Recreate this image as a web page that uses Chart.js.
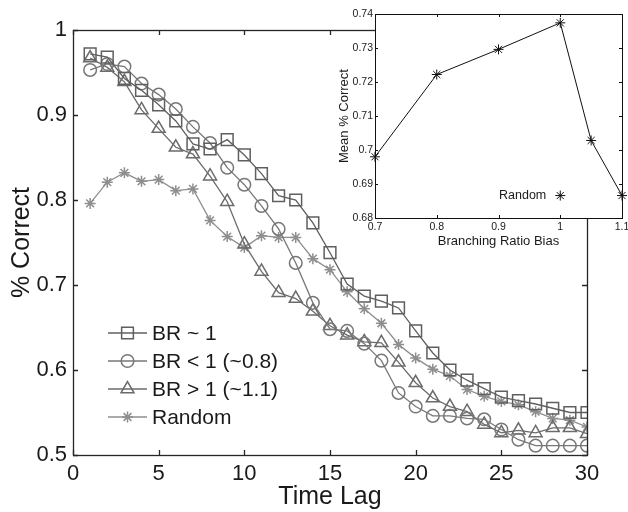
<!DOCTYPE html>
<html>
<head>
<meta charset="utf-8">
<script src="https://cdn.jsdelivr.net/npm/chart.js@4.4.1/dist/chart.umd.min.js"></script>
<style>
  body { margin: 0; background: #fff; }
  #wrap { position: relative; width: 628px; height: 512px; }
  #mainChart { position: absolute; left: 0; top: 0; }
  #insetChart { position: absolute; left: 318px; top: 0; }
</style>
</head>
<body>
<div id="wrap">
  <canvas id="mainChart" width="628" height="512"></canvas>
  <canvas id="insetChart" width="310" height="260"></canvas>
</div>
<script>
// main plot data (time lag 1..30)
const lags = [1,2,3,4,5,6,7,8,9,10,11,12,13,14,15,16,17,18,19,20,21,22,23,24,25,26,27,28,29,30];
const brOne = [0.972,0.968,0.943,0.929,0.912,0.893,0.866,0.860,0.871,0.853,0.831,0.805,0.800,0.773,0.738,
               0.701,0.687,0.681,0.673,0.646,0.620,0.600,0.588,0.578,0.568,0.564,0.560,0.555,0.550,0.550];
const brLow = [0.953,0.960,0.957,0.937,0.924,0.907,0.886,0.867,0.838,0.818,0.793,0.766,0.726,0.679,0.648,
               0.646,0.631,0.611,0.573,0.557,0.546,0.546,0.543,0.542,0.530,0.518,0.511,0.511,0.511,0.511];
const brHigh = [0.967,0.956,0.939,0.906,0.884,0.862,0.854,0.828,0.798,0.748,0.716,0.691,0.684,0.669,0.652,
                0.641,0.633,0.632,0.609,0.585,0.567,0.557,0.551,0.536,0.526,0.529,0.526,0.532,0.532,0.525];
const randomLag = [0.796,0.821,0.832,0.822,0.824,0.811,0.813,0.776,0.757,0.744,0.758,0.756,0.756,0.731,0.718,
                   0.692,0.672,0.655,0.630,0.614,0.601,0.593,0.577,0.569,0.563,0.559,0.551,0.543,0.541,0.533];
const seriesNames = ['BR ~ 1', 'BR < 1 (~0.8)', 'BR > 1 (~1.1)', 'Random'];
const xTicks = [0, 5, 10, 15, 20, 25, 30];
const yTicks = [0.5, 0.6, 0.7, 0.8, 0.9, 1];

// inset data
const bias = [0.7, 0.8, 0.9, 1.0, 1.05, 1.1];
const meanCorrect = [0.698, 0.7222, 0.7296, 0.7374, 0.7028, 0.6866];
const randomBias = [1.0];
const randomMean = [0.6866];

const FONT = '"Liberation Sans", Arial, Helvetica, sans-serif';

function pts(xs, ys) {
    return xs.map((v, i) => ({x: v, y: ys[i]}));
}

function fmt(v) {
    return String(+Number(v).toFixed(3));
}

// draws the box and inward tick marks (matlab style)
function boxTicks(len, color, lw) {
    return {
        id: 'boxTicks',
        afterDraw(chart) {
            const {ctx, chartArea: a} = chart;
            const x = chart.scales.x, y = chart.scales.y;
            ctx.save();
            ctx.strokeStyle = color;
            ctx.lineWidth = lw;
            ctx.beginPath();
            x.ticks.forEach(t => {
                const px = Math.round(x.getPixelForValue(t.value)) + 0.5;
                ctx.moveTo(px, a.bottom); ctx.lineTo(px, a.bottom - len);
                ctx.moveTo(px, a.top); ctx.lineTo(px, a.top + len);
            });
            y.ticks.forEach(t => {
                const py = Math.round(y.getPixelForValue(t.value)) + 0.5;
                ctx.moveTo(a.left, py); ctx.lineTo(a.left + len, py);
                ctx.moveTo(a.right, py); ctx.lineTo(a.right - len, py);
            });
            ctx.stroke();
            ctx.strokeRect(Math.round(a.left) + 0.5, Math.round(a.top) + 0.5,
                Math.round(a.right - a.left), Math.round(a.bottom - a.top));
            ctx.restore();
        }
    };
}

const legendPlugin = {
    id: 'innerLegend',
    afterDraw(chart) {
        const ctx = chart.ctx;
        const a = chart.chartArea;
        const x0 = a.left + 35, x1 = a.left + 74, xm = (x0 + x1) / 2;
        ctx.save();
        chart.data.datasets.forEach((ds, i) => {
            const yy = 333 + i * 28;
            ctx.strokeStyle = ds.borderColor;
            ctx.lineWidth = ds.borderWidth;
            ctx.beginPath();
            ctx.moveTo(x0, yy); ctx.lineTo(x1, yy);
            ctx.stroke();
            ctx.lineWidth = ds.pointBorderWidth;
            ctx.fillStyle = 'rgba(0,0,0,0)';
            Chart.helpers.drawPoint(ctx, {
                pointStyle: ds.pointStyle, radius: ds.pointRadius,
                borderWidth: ds.pointBorderWidth, rotation: 0
            }, xm, yy);
            ctx.fillStyle = '#1a1a1a';
            ctx.font = '21px ' + FONT;
            ctx.textBaseline = 'middle';
            ctx.textAlign = 'left';
            ctx.fillText(ds.label, x1 + 5, yy + 1);
        });
        ctx.restore();
    }
};

function lineSet(label, data, color, style, r) {
    return {
        label: label,
        data: pts(lags, data),
        borderColor: color,
        borderWidth: 1.3,
        pointStyle: style,
        pointRadius: r,
        pointHoverRadius: r,
        pointBorderColor: color,
        pointBackgroundColor: 'rgba(0,0,0,0)',
        pointBorderWidth: 1.5,
        tension: 0,
        fill: false
    };
}

new Chart(document.getElementById('mainChart'), {
    type: 'line',
    data: {
        datasets: [
            lineSet(seriesNames[0], brOne, '#5f5f5f', 'rect', 8.3),
            lineSet(seriesNames[1], brLow, '#777777', 'circle', 6.3),
            lineSet(seriesNames[2], brHigh, '#6b6b6b', 'triangle', 7.5),
            lineSet(seriesNames[3], randomLag, '#8e8e8e', 'star', 5.5)
        ]
    },
    options: {
        responsive: false,
        animation: false,
        devicePixelRatio: 1,
        layout: {padding: {left: 0, top: 30, right: 41, bottom: 0}},
        plugins: {legend: {display: false}, tooltip: {enabled: false}},
        scales: {
            x: {
                type: 'linear', min: 0, max: 30,
                afterBuildTicks: s => { s.ticks = xTicks.map(v => ({value: v})); },
                afterFit: s => { s.height = 57; s.paddingLeft = 0; s.paddingRight = 0; },
                grid: {display: false, drawTicks: false},
                border: {display: false},
                ticks: {color: '#1a1a1a', padding: 6, font: {family: FONT, size: 22}, callback: fmt, maxRotation: 0},
                title: {display: true, text: 'Time Lag', color: '#1a1a1a', padding: 0,
                        font: {family: FONT, size: 25}}
            },
            y: {
                type: 'linear', min: 0.5, max: 1,
                afterBuildTicks: s => { s.ticks = yTicks.map(v => ({value: v})); },
                afterFit: s => { s.width = 73; s.paddingTop = 0; s.paddingBottom = 0; },
                grid: {display: false, drawTicks: false},
                border: {display: false},
                ticks: {color: '#1a1a1a', padding: 6, font: {family: FONT, size: 22}, callback: fmt},
                title: {display: true, text: '% Correct', color: '#1a1a1a', padding: {top: 7, bottom: 0},
                        font: {family: FONT, size: 25}}
            }
        }
    },
    plugins: [boxTicks(5, '#262626', 1.3), legendPlugin]
});

const insetBg = {
    id: 'insetBg',
    beforeDraw(chart) {
        const {ctx, chartArea: a} = chart;
        ctx.save();
        ctx.fillStyle = '#fff';
        ctx.fillRect(a.left, a.top, a.right - a.left, a.bottom - a.top);
        ctx.restore();
    }
};

const randomLabel = {
    id: 'randomLabel',
    afterDraw(chart) {
        const {ctx} = chart;
        const px = chart.scales.x.getPixelForValue(randomBias[0]);
        const py = chart.scales.y.getPixelForValue(randomMean[0]);
        ctx.save();
        ctx.fillStyle = '#1a1a1a';
        ctx.font = '12.5px ' + FONT;
        ctx.textAlign = 'right';
        ctx.textBaseline = 'middle';
        ctx.fillText('Random', px - 14, py);
        ctx.restore();
    }
};

new Chart(document.getElementById('insetChart'), {
    type: 'line',
    data: {
        datasets: [{
            label: 'Mean % Correct',
            data: pts(bias, meanCorrect),
            borderColor: '#111',
            borderWidth: 1,
            pointStyle: 'star',
            pointRadius: 5,
            pointBorderColor: '#111',
            pointBorderWidth: 1,
            tension: 0
        }, {
            label: 'Random',
            data: pts(randomBias, randomMean),
            showLine: false,
            pointStyle: 'star',
            pointRadius: 5,
            pointBorderColor: '#111',
            pointBorderWidth: 1
        }]
    },
    options: {
        responsive: false,
        animation: false,
        devicePixelRatio: 1,
        clip: false,
        layout: {padding: {left: 0, top: 14, right: 4, bottom: 0}},
        plugins: {legend: {display: false}, tooltip: {enabled: false}},
        scales: {
            x: {
                type: 'linear', min: 0.7, max: 1.1,
                ticks: {stepSize: 0.1, color: '#1a1a1a', padding: 3, font: {family: FONT, size: 10.5},
                        callback: fmt, maxRotation: 0, autoSkip: false},
                afterFit: s => { s.height = 42; s.paddingLeft = 0; s.paddingRight = 0; },
                grid: {display: false, drawTicks: false},
                border: {display: false},
                title: {display: true, text: 'Branching Ratio Bias', color: '#1a1a1a',
                        padding: {top: 0, bottom: 11}, font: {family: FONT, size: 13}}
            },
            y: {
                type: 'linear', min: 0.68, max: 0.74,
                ticks: {stepSize: 0.01, color: '#1a1a1a', padding: 2, font: {family: FONT, size: 10.5},
                        callback: fmt, autoSkip: false},
                afterFit: s => { s.width = 57; s.paddingTop = 0; s.paddingBottom = 0; },
                grid: {display: false, drawTicks: false},
                border: {display: false},
                title: {display: true, text: 'Mean % Correct', color: '#1a1a1a',
                        padding: {top: 19, bottom: 0}, font: {family: FONT, size: 13}}
            }
        }
    },
    plugins: [insetBg, boxTicks(3, '#111', 1), randomLabel]
});
</script>
</body>
</html>
